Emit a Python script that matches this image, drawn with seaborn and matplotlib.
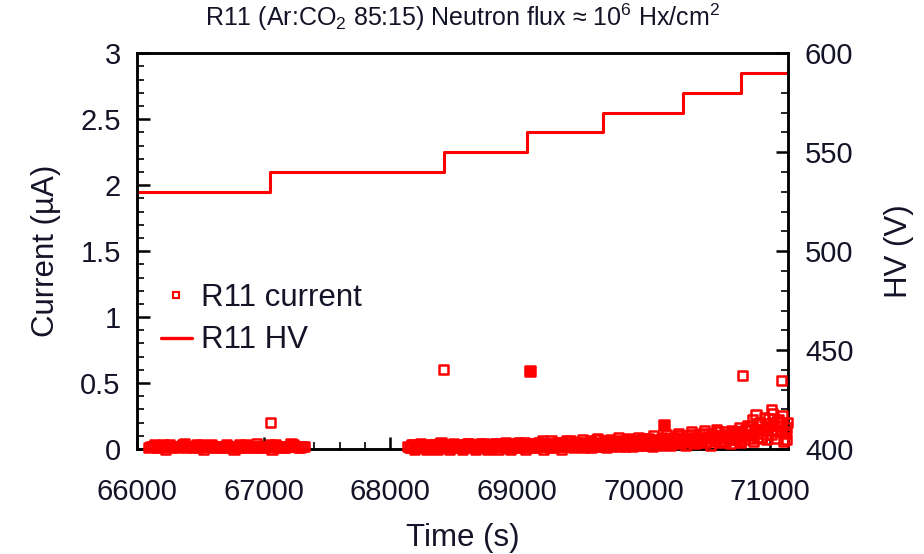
import numpy as np
import pandas as pd
import matplotlib
matplotlib.use("Agg")
import matplotlib.pyplot as plt
from matplotlib.lines import Line2D
from matplotlib.ticker import MultipleLocator, FormatStrFormatter
import seaborn as sns

# ---------------- data ----------------
# HV steps (s, V)
hv_time = [66000, 67050, 68420, 69080, 69680, 70310, 70770, 71145]
hv_volt = [530, 540, 550, 560, 570, 580, 590, 590]

# current, first run (s, uA)
c1_time = [66090, 66120, 66150, 66180, 66210, 66240, 66270, 66300, 66330, 66360,
           66390, 66420, 66450, 66480, 66510, 66540, 66570, 66600, 66630, 66660,
           66690, 66720, 66750, 66780, 66810, 66840, 66870, 66900, 66930, 66960,
           66990, 67020, 67050, 67080, 67110, 67140, 67170, 67200, 67230, 67260,
           67290, 67320]
c1_vals = [0.01, 0.02, 0.01, 0.02, 0.03, 0.02, 0.01, 0.02, 0.02, 0.03,
           0.01, 0.02, 0.02, 0.01, 0.03, 0.02, 0.02, 0.01, 0.02, 0.02,
           0.01, 0.02, 0.01, 0.02, 0.03, 0.01, 0.02, 0.02, 0.01, 0.02,
           0.01, 0.02, 0.03, 0.02, 0.01, 0.02, 0.01, 0.02, 0.03, 0.02,
           0.01, 0.02]
c1b_time = [66105, 66135, 66165, 66195, 66225, 66255, 66285, 66315, 66345, 66375,
            66405, 66435, 66465, 66495, 66525, 66555, 66585, 66615, 66645, 66675,
            66705, 66735, 66765, 66795, 66825, 66855, 66885, 66915, 66945, 66975,
            67005, 67035, 67065, 67095, 67125, 67155, 67185, 67215, 67245, 67275,
            67305]
c1b_vals = [0.02, 0.03, 0.01, 0.02, 0.00, 0.03, 0.02, 0.01, 0.02, 0.04,
            0.02, 0.01, 0.03, 0.02, 0.00, 0.02, 0.03, 0.01, 0.02, 0.01,
            0.03, 0.02, 0.00, 0.02, 0.01, 0.03, 0.02, 0.01, 0.04, 0.02,
            0.01, 0.02, 0.00, 0.03, 0.02, 0.01, 0.02, 0.04, 0.02, 0.01,
            0.02]

# current, second run, main samples
c2_time = [68140, 68160, 68180, 68200, 68220, 68240, 68260, 68280, 68300, 68320,
           68340, 68360, 68380, 68400, 68420, 68440, 68460, 68480, 68500, 68520,
           68540, 68560, 68580, 68600, 68620, 68640, 68660, 68680, 68700, 68720,
           68740, 68760, 68780, 68800, 68820, 68840, 68860, 68880, 68900, 68920,
           68940, 68960, 68980, 69000, 69020, 69040, 69060, 69080, 69100, 69120,
           69140, 69160, 69180, 69200, 69220, 69240, 69260, 69280, 69300, 69320,
           69340, 69360, 69380, 69400, 69420, 69440, 69460, 69480, 69500, 69520,
           69540, 69560, 69580, 69600, 69620, 69640, 69660, 69680, 69700, 69720,
           69740, 69760, 69780, 69800, 69820, 69840, 69860, 69880, 69900, 69920,
           69940, 69960, 69980, 70000, 70020, 70040, 70060, 70080, 70100, 70120,
           70140, 70160, 70180, 70200, 70220, 70240, 70260, 70280, 70300, 70320,
           70340, 70360, 70380, 70400, 70420, 70440, 70460, 70480, 70500, 70520,
           70540, 70560, 70580, 70600, 70620, 70640, 70660, 70680, 70700, 70720,
           70740, 70760, 70780, 70800, 70820, 70840, 70860, 70880, 70900, 70920,
           70940, 70960, 70980, 71000, 71020, 71040, 71060, 71080, 71100, 71120,
           71140]
c2_vals = [0.02, 0.01, 0.03, 0.02, 0.01, 0.04, 0.02, 0.01, 0.03, 0.02,
           0.01, 0.03, 0.02, 0.05, 0.02, 0.01, 0.03, 0.02, 0.04, 0.01,
           0.02, 0.03, 0.01, 0.02, 0.04, 0.02, 0.03, 0.01, 0.02, 0.03,
           0.04, 0.02, 0.01, 0.03, 0.02, 0.04, 0.02, 0.03, 0.01, 0.02,
           0.03, 0.02, 0.04, 0.01, 0.03, 0.02, 0.05, 0.02, 0.03, 0.01,
           0.04, 0.02, 0.03, 0.06, 0.02, 0.03, 0.01, 0.04, 0.02, 0.05,
           0.03, 0.05, 0.02, 0.04, 0.06, 0.03, 0.02, 0.05, 0.03, 0.07,
           0.04, 0.02, 0.06, 0.03, 0.05, 0.08, 0.04, 0.02, 0.06, 0.04,
           0.07, 0.03, 0.05, 0.09, 0.04, 0.06, 0.02, 0.08, 0.05, 0.03,
           0.06, 0.09, 0.04, 0.07, 0.03, 0.08, 0.05, 0.10, 0.06, 0.04,
           0.08, 0.05, 0.11, 0.06, 0.04, 0.09, 0.07, 0.12, 0.05, 0.08,
           0.10, 0.06, 0.13, 0.08, 0.05, 0.11, 0.07, 0.14, 0.09, 0.06,
           0.12, 0.08, 0.15, 0.06, 0.10, 0.13, 0.09, 0.07, 0.14, 0.11,
           0.09, 0.16, 0.12, 0.07, 0.18, 0.10, 0.22, 0.14, 0.08, 0.20,
           0.15, 0.24, 0.11, 0.19, 0.27, 0.13, 0.21, 0.17, 0.25, 0.12,
           0.20]

# current, second run, interleaved readings
c2b_time = [68150, 68170, 68190, 68210, 68230, 68250, 68270, 68290, 68310, 68330,
            68350, 68370, 68390, 68410, 68430, 68450, 68470, 68490, 68510, 68530,
            68550, 68570, 68590, 68610, 68630, 68650, 68670, 68690, 68710, 68730,
            68750, 68770, 68790, 68810, 68830, 68850, 68870, 68890, 68910, 68930,
            68950, 68970, 68990, 69010, 69030, 69050, 69070, 69090, 69110, 69130,
            69150, 69170, 69190, 69210, 69230, 69250, 69270, 69290, 69310, 69330,
            69350, 69370, 69390, 69410, 69430, 69450, 69470, 69490, 69510, 69530,
            69550, 69570, 69590, 69610, 69630, 69650, 69670, 69690, 69710, 69730,
            69750, 69770, 69790]
c2b_vals = [0.01, 0.03, 0.00, 0.02, 0.03, 0.01, 0.02, 0.00, 0.02, 0.03,
            0.02, 0.00, 0.04, 0.01, 0.03, 0.02, 0.00, 0.03, 0.02, 0.01,
            0.03, 0.00, 0.02, 0.04, 0.01, 0.03, 0.00, 0.02, 0.04, 0.01,
            0.02, 0.00, 0.03, 0.01, 0.04, 0.00, 0.03, 0.02, 0.05, 0.01,
            0.00, 0.04, 0.02, 0.05, 0.01, 0.03, 0.00, 0.04, 0.02, 0.03,
            0.01, 0.05, 0.03, 0.00, 0.04, 0.02, 0.06, 0.01, 0.03, 0.02,
            0.00, 0.04, 0.06, 0.02, 0.03, 0.01, 0.05, 0.02, 0.04, 0.01,
            0.05, 0.03, 0.01, 0.04, 0.07, 0.02, 0.03, 0.06, 0.01, 0.05,
            0.02, 0.06, 0.04]

# current, second run, extra readings (scatter layer)
c3_time = [69810, 69830, 69850, 69870, 69890, 69910, 69930, 69950, 69970, 69990,
           70010, 70030, 70050, 70070, 70090, 70110, 70130, 70150, 70170, 70190,
           70210, 70230, 70250, 70270, 70290, 70310, 70330, 70350, 70370, 70390,
           70410, 70430, 70450, 70470, 70490, 70510, 70530, 70550, 70570, 70590,
           70610, 70630, 70650, 70670, 70690, 70710, 70730, 70750, 70770, 70790,
           70810, 70830, 70850, 70870, 70890, 70910, 70930, 70950, 70970, 70990,
           71010, 71030, 71050, 71070, 71090, 71110, 71130,
           70730, 70770, 70810, 70850, 70890, 70930, 70970, 71010, 71050, 71090,
           71130]
c3_vals = [0.02, 0.05, 0.03, 0.07, 0.04, 0.02, 0.06, 0.03, 0.05, 0.08,
           0.03, 0.06, 0.04, 0.02, 0.07, 0.05, 0.03, 0.09, 0.04, 0.06,
           0.03, 0.07, 0.05, 0.10, 0.04, 0.08, 0.03, 0.06, 0.11, 0.05,
           0.04, 0.09, 0.06, 0.12, 0.05, 0.08, 0.03, 0.10, 0.07, 0.13,
           0.05, 0.09, 0.06, 0.11, 0.04, 0.08, 0.07, 0.13, 0.06, 0.10,
           0.14, 0.08, 0.17, 0.06, 0.12, 0.19, 0.09, 0.15, 0.07, 0.23,
           0.11, 0.18, 0.08, 0.22, 0.14, 0.06, 0.16,
           0.13, 0.05, 0.15, 0.11, 0.26, 0.09, 0.17, 0.30, 0.14, 0.20,
           0.07]

# isolated readings
out_time = [67050, 68420, 70780, 71090]
out_vals = [0.20, 0.60, 0.56, 0.52]
dbl_time = [69100, 70160]
dbl_vals = [0.59, 0.18]

x_ticks = [66000, 67000, 68000, 69000, 70000, 71000]
# --------------------------------------

sns.set_theme(style="ticks")
plt.rcParams["font.family"] = ["Liberation Sans", "DejaVu Sans"]
plt.rcParams["mathtext.fontset"] = "custom"
plt.rcParams["mathtext.rm"] = "Liberation Sans"
plt.rcParams["mathtext.it"] = "Liberation Sans:italic"

RED = "#ff0000"
TXT = "#141428"
fig = plt.figure(figsize=(9.24, 5.54), dpi=100)
ax = fig.add_axes([137.3 / 924, 1 - 449 / 554, (788.3 - 137.3) / 924, (449 - 53.3) / 554])
ax2 = ax.twinx()

cur = pd.DataFrame({"t": c1_time + c1b_time + c2_time + c2b_time + c3_time + out_time,
                    "I": c1_vals + c1b_vals + c2_vals + c2b_vals + c3_vals + out_vals})
sns.scatterplot(data=cur, x="t", y="I", ax=ax, marker="s", s=44,
                facecolor="none", edgecolor=RED, linewidth=1.8, clip_on=False,
                zorder=3, legend=False)
dbl = pd.DataFrame({"t": dbl_time, "I": dbl_vals})
sns.scatterplot(data=dbl, x="t", y="I", ax=ax, marker="s", s=44,
                color=RED, edgecolor=RED, linewidth=1.8, clip_on=False,
                zorder=3, legend=False)

hv = pd.DataFrame({"t": hv_time, "V": hv_volt})
sns.lineplot(data=hv, x="t", y="V", ax=ax2, color=RED, linewidth=2.2,
             drawstyle="steps-post", estimator=None, legend=False)

ax.set_xlim(66000, 71145)
ax.set_ylim(0, 3)
ax2.set_ylim(400, 600)

ax.set_xticks(x_ticks)
ax.xaxis.set_minor_locator(MultipleLocator(200))
ax.yaxis.set_major_locator(MultipleLocator(0.5))
ax.yaxis.set_minor_locator(MultipleLocator(0.1))
ax.yaxis.set_major_formatter(FormatStrFormatter("%g"))
ax2.yaxis.set_major_locator(MultipleLocator(50))
ax2.yaxis.set_minor_locator(MultipleLocator(10))

for a in (ax, ax2):
    for sp in a.spines.values():
        sp.set_visible(True)
        sp.set_linewidth(1.8)
        sp.set_color("black")

ax.tick_params(axis="both", which="both", direction="in", colors="black",
               labelcolor=TXT, labelsize=21, top=False, right=False)
ax.tick_params(axis="both", which="major", length=9, width=1.8)
ax.tick_params(axis="both", which="minor", length=5, width=1.2)
ax.tick_params(axis="y", which="major", pad=12)
ax.tick_params(axis="x", which="major", pad=21)
ax2.tick_params(axis="y", which="both", direction="in", colors="black",
                labelcolor=TXT, labelsize=21, left=False, right=True)
ax2.tick_params(axis="y", which="major", length=9, width=1.8, pad=12)
ax2.tick_params(axis="y", which="minor", length=5, width=1.2)

ax.set_xlabel("Time (s)", fontsize=22.5, labelpad=12, color=TXT)
ax.set_ylabel("Current (µA)", fontsize=22.5, labelpad=14, color=TXT)
ax2.set_ylabel("HV (V)", fontsize=22.5, labelpad=22, color=TXT)
ax.set_title(r"R11 (Ar:CO$_2$ 85:15) Neutron flux ≈ 10$^6$ Hx/cm$^2$",
             fontsize=18, pad=20, color=TXT)

ax.set_zorder(ax2.get_zorder() + 1)
ax.patch.set_visible(False)

handles = [Line2D([], [], marker="s", ls="none", markersize=4.5,
                  markerfacecolor="none", markeredgecolor=RED, markeredgewidth=1.5),
           Line2D([], [], color=RED, lw=2.4)]
ax.legend(handles, ["R11 current", "R11 HV"], loc="center left",
          bbox_to_anchor=(0.012, 0.328), frameon=False, fontsize=22.5,
          handlelength=1.0, handletextpad=0.3, labelspacing=0.4, borderpad=0,
          labelcolor=TXT)

fig.savefig("out.png", dpi=100)
